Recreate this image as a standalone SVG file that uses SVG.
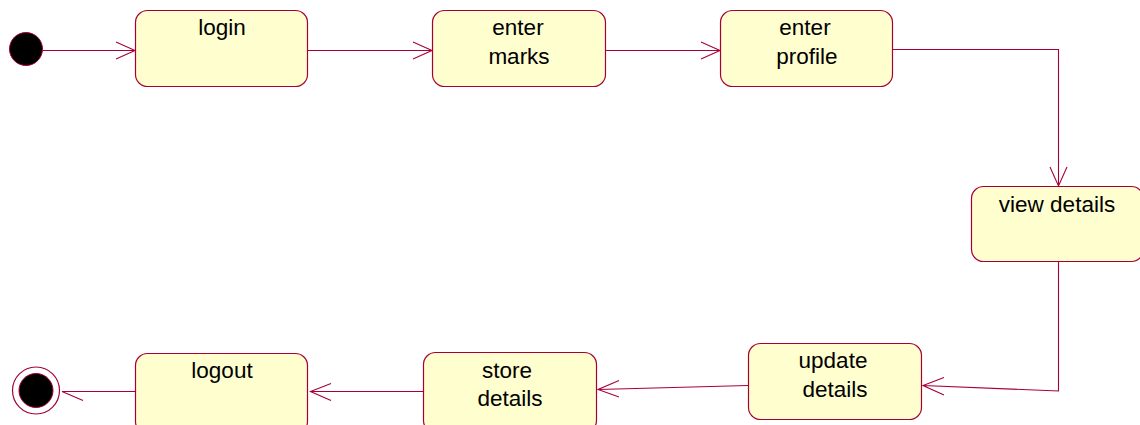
<svg xmlns="http://www.w3.org/2000/svg" width="1140" height="425" viewBox="0 0 1140 425">
<style>
.st{fill:#FEFECE;stroke:#A80036;stroke-width:1.2}
.t{font-family:"Liberation Sans",Arial,sans-serif;font-size:22.5px;fill:#000;text-anchor:middle}
.c{fill:none;stroke:#A80036;stroke-width:1.1}
</style>
<rect width="1140" height="425" fill="#fff"/>
<g id="start"><circle cx="26" cy="49" r="16.5" fill="#000" stroke="#A80036" stroke-width="1"/></g>
<g id="login"><rect class="st" x="135.5" y="10.5" width="172" height="76" rx="12"/><text class="t" x="222" y="35">login</text></g>
<g id="enter-marks"><rect class="st" x="432.5" y="10.5" width="173" height="76" rx="12"/><text class="t" x="518" y="35">enter</text><text class="t" x="519" y="64">marks</text></g>
<g id="enter-profile"><rect class="st" x="720.5" y="10.5" width="172" height="76" rx="12"/><text class="t" x="805" y="35">enter</text><text class="t" x="807" y="64">profile</text></g>
<g id="view-details"><rect class="st" x="971.5" y="186.5" width="172" height="75" rx="12"/><text class="t" x="1057" y="212">view details</text></g>
<g id="update-details"><rect class="st" x="748.5" y="343.5" width="173" height="76" rx="12"/><text class="t" x="833" y="368">update</text><text class="t" x="835" y="397">details</text></g>
<g id="store-details"><rect class="st" x="423.5" y="352.5" width="173" height="80" rx="12"/><text class="t" x="507" y="378">store</text><text class="t" x="510" y="406">details</text></g>
<g id="logout"><rect class="st" x="135.5" y="353.5" width="172" height="80" rx="12"/><text class="t" x="222" y="378">logout</text></g>
<g id="end"><circle cx="36" cy="390.5" r="23.5" fill="#fff" stroke="#A80036" stroke-width="1.2"/><circle cx="36" cy="390.5" r="17" fill="#000" stroke="#A80036" stroke-width="1"/></g>
<g id="connectors">
<path class="c" d="M43 50.5H135M116 42L135 50.5L116 59"/>
<path class="c" d="M308 50.5H432M413 42L432 50.5L413 59"/>
<path class="c" d="M606 50.5H720M701 42L720 50.5L701 59"/>
<path class="c" d="M893 49.5H1058.5V186M1050 167L1058.5 186L1067 167"/>
<path class="c" d="M1058.5 262V391L923 385.5M944 377.5L923 385.5L944 395"/>
<path class="c" d="M748 385.5L598 389.5M619 380.5L598 389.5L619 397"/>
<path class="c" d="M423 391.5H310.5M331 383.5L310.5 391.5L331 400.5"/>
<path class="c" d="M135 391.5H62L83 400.5"/>
</g>
</svg>
